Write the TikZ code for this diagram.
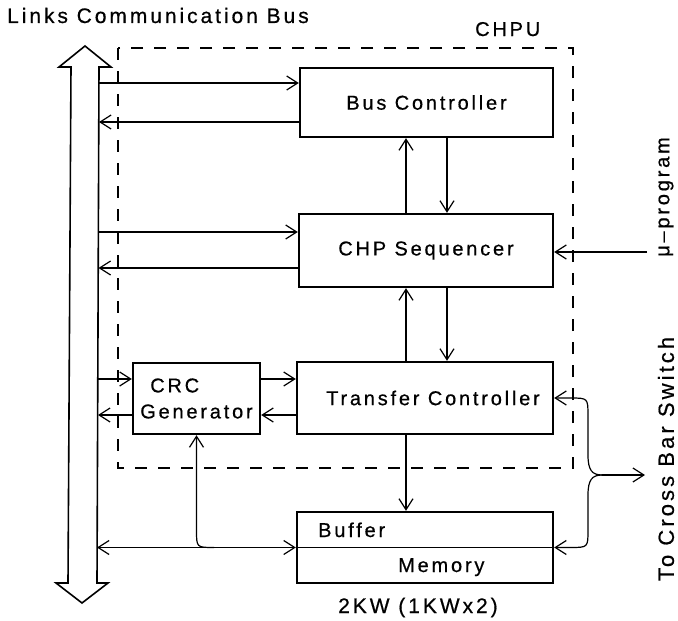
\documentclass[tikz,border=0pt]{standalone}
\usepackage{fontspec}
\setmainfont{Liberation Sans}[LetterSpace=14,FakeBold=0.6]
\usetikzlibrary{arrows.meta}
\begin{document}
\begin{tikzpicture}[x=1pt,y=-1pt,
  >={Straight Barb[length=11pt,width=14pt]},
  box/.style={draw, line width=2.4pt, inner sep=0pt, font=\fontsize{20}{26}\selectfont},
  conn/.style={line width=1.2pt},
  lbl/.style={inner sep=0pt, font=\fontsize{20}{24}\selectfont},
  chpu/.style={line width=1.5pt, dash pattern=on 12pt off 11pt}]
\useasboundingbox (0,0) rectangle (678,621);
% bus double arrow
\draw[line width=1.6pt, line join=miter]
  (85,46) -- (111,67) -- (99,67) -- (97,583) -- (108,583) -- (82,603)
  -- (56,583) -- (68,583) -- (71,67) -- (59,67) -- cycle;
% CHPU dashed frame
\draw[chpu] (118,48) rectangle (573,468);
% texts
\node[lbl, anchor=base west, font=\fontsize{21}{24}\selectfont] (title) at (7,23) {Links Communication Bus};
\node[lbl, anchor=base west] (chpulbl) at (475,36) {CHPU};
% blocks
\node[box, minimum width=253pt, minimum height=69pt] (buscon) at (426.5,102.5) {Bus Controller};
\node[box, minimum width=254pt, minimum height=73pt] (chpseq) at (426,250.5) {CHP Sequencer};
\node[box, minimum width=256pt, minimum height=72pt] (trans) at (425,398) {\hspace*{16pt}Transfer Controller};
\node[box, minimum width=127pt, minimum height=71pt, align=left] (crc) at (196.5,398.5) {\hspace*{10pt}CRC\\Generator};
\node[box, minimum width=256pt, minimum height=71pt] (buffer) at (425,547.5) {};
\draw[conn] (buffer.west) -- (buffer.east);
\node[lbl, anchor=base west] (buftxt) at (318,537) {Buffer};
\node[lbl, anchor=base west] (memtxt) at (398,572) {Memory};
\node[lbl, anchor=base west, font=\fontsize{21}{24}\selectfont] (kwtxt) at (338,613) {2KW (1KWx2)};
\node[lbl, rotate=90] (mutxt) at (666,197) {μ–program};
\node[lbl, rotate=90, font=\fontsize{22}{26}\selectfont] (cbtxt) at (666,459) {To Cross Bar Switch};
% bus connectors
\coordinate (b1) at (99,83);
\coordinate (b2) at (99,122);
\coordinate (b3) at (98.5,232);
\coordinate (b4) at (98.5,268);
\coordinate (b5) at (98,379);
\coordinate (b6) at (98,415);
\coordinate (b7) at (97,547.5);
\draw[conn,->] (b1) -- (b1 -| buscon.west);
\draw[conn,<-] (b2) -- (b2 -| buscon.west);
\draw[conn,->] (b3) -- (b3 -| chpseq.west);
\draw[conn,<-] (b4) -- (b4 -| chpseq.west);
\draw[conn,->] (b5) -- (b5 -| crc.west);
\draw[conn,<-] (b6) -- (b6 -| crc.west);
\draw[conn,->] (b5 -| crc.east) -- (b5 -| trans.west);
\draw[conn,<-] (b6 -| crc.east) -- (b6 -| trans.west);
\draw[conn,<->] (b7) -- (buffer.west);
% vertical connectors
\coordinate (cl) at (406,0);
\coordinate (cr) at (447,0);
\draw[conn,->] (chpseq.north -| cl) -- (buscon.south -| cl);
\draw[conn,->] (buscon.south -| cr) -- (chpseq.north -| cr);
\draw[conn,->] (trans.north -| cl) -- (chpseq.south -| cl);
\draw[conn,->] (chpseq.south -| cr) -- (trans.north -| cr);
\draw[conn,->] (trans.south -| cl) -- (buffer.north -| cl);
% micro-program input
\coordinate (mu) at (647,252);
\draw[conn,->] (mu) -- (mu -| chpseq.east);
% CRC to buffer line
\coordinate (crcj) at (214,547.5);
\draw[conn,->] (crcj) .. controls (196.5,547.5) .. (196.5,530) -- (crc.south);
% cross bar switch brace
\coordinate (J) at (602,475);
\coordinate (xout) at (645,475);
\draw[conn,->] (J) .. controls (592,475) and (588,470) .. (588,455) -- (588,416)
  .. controls (588,398) .. (570,398) -- (trans.east);
\draw[conn,->] (J) .. controls (592,475) and (588,480) .. (588,495) -- (588,530)
  .. controls (588,547.5) .. (570,547.5) -- (buffer.east);
\draw[conn,->] (J) -- (xout);
\end{tikzpicture}
\end{document}
